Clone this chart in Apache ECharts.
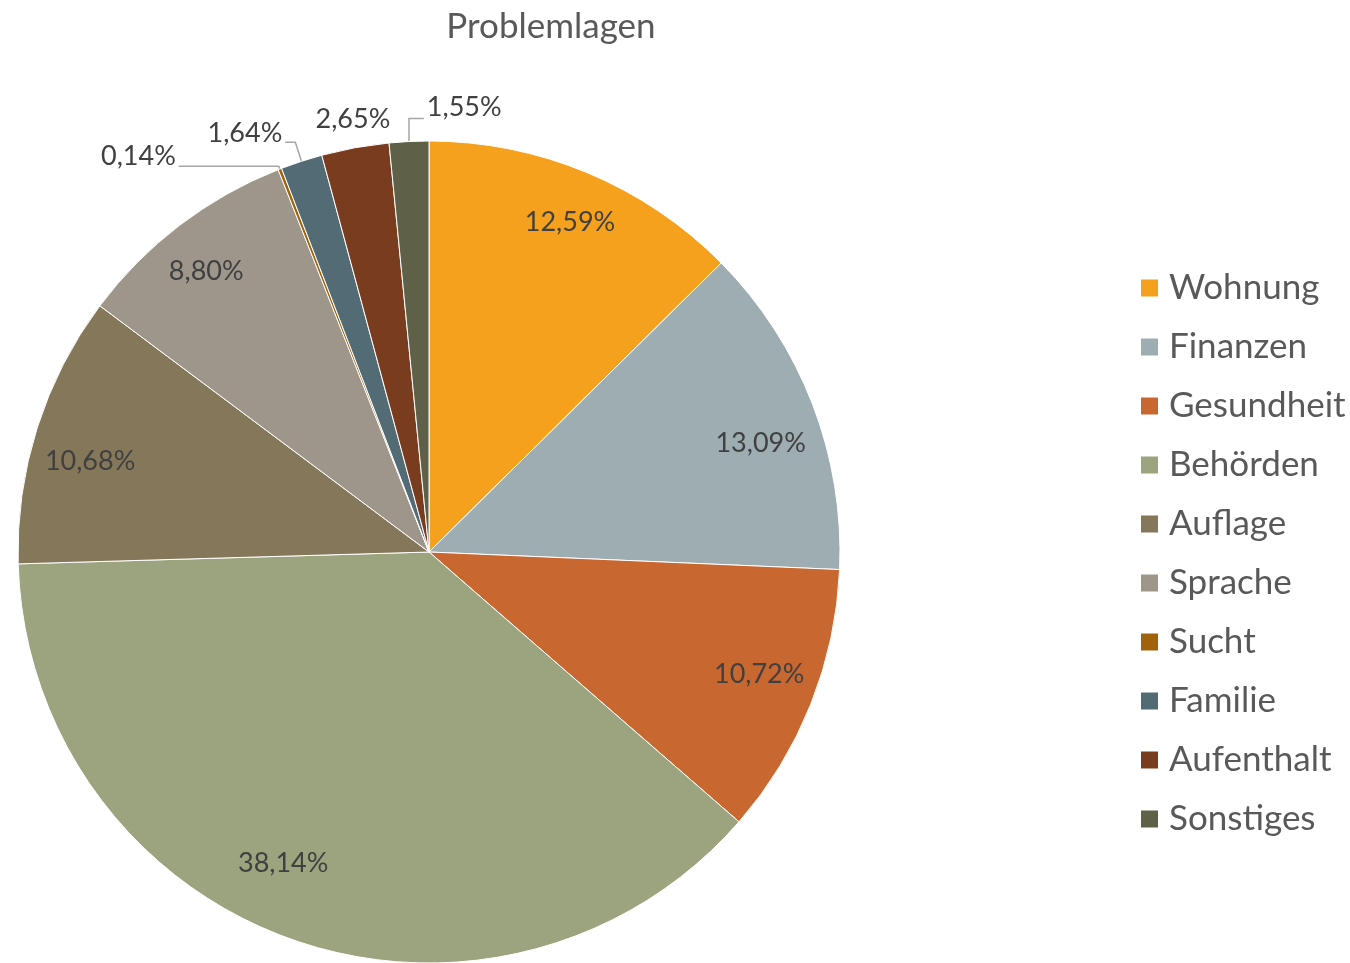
<!DOCTYPE html>
<html><head><meta charset="utf-8">
<script src="https://cdn.jsdelivr.net/npm/echarts@6/dist/echarts.min.js"></script>
<style>html,body{margin:0;padding:0;background:#fff}#c{width:1350px;height:963px}</style>
</head><body><div id="c"></div>
<script>
const categories = ['Wohnung','Finanzen','Gesundheit','Behörden','Auflage','Sprache','Sucht','Familie','Aufenthalt','Sonstiges'];
const values = [12.59,13.09,10.72,38.14,10.68,8.80,0.14,1.64,2.65,1.55];
const colors = ['#F5A11E','#9DADB2','#C8672F','#9BA37F','#85775A','#9E968A','#A0620A','#536B75','#7A3C1E','#5E6148'];
const outsideLabels = ['Sucht','Familie','Aufenthalt','Sonstiges'];

const FONT = 'Lato, "Open Sans", sans-serif';
const fmt = v => v.toFixed(2).replace('.', ',') + '%';

// leader line lengths for the small outside-labelled slices
const leader = {
  Sucht:      {length:3,  length2:100, line:true},
  Familie:    {length:20, length2:10,  line:true},
  Aufenthalt: {length:29, length2:0,   line:false},
  Sonstiges:  {length:23, length2:-16, line:true}
};
// small nudges of the inside labels (Excel best-fit placement)
const insideNudge = {
  Wohnung:[4,-2], Finanzen:[0,19], Gesundheit:[0,-9], 'Behörden':[-26,-23], Auflage:[0,17], Sprache:[-7,2]
};

const chart = echarts.init(document.getElementById('c'));
const mainData = categories.map((c,i)=>{
  const o = outsideLabels.includes(c);
  const d = {name:c, value:values[i], itemStyle:{color:colors[i]}, label:{show:o}, labelLine:{show:false}};
  if (o) d.labelLine = {show:leader[c].line, length:leader[c].length, length2:leader[c].length2};
  return d;
});
const overlayData = categories.map((c,i)=>({
  name:c, value:values[i],
  label:{show: !outsideLabels.includes(c)}
}));
chart.setOption({
  animation:false,
  title:{text:'Problemlagen', left:551, top:9, textAlign:'center', padding:0,
    textStyle:{fontFamily:FONT, fontSize:35, fontWeight:'normal', color:'#595959'}},
  legend:{orient:'vertical', left:1139, top:268, padding:0, itemWidth:19, itemHeight:19, itemGap:19,
    icon:'rect', data:categories,
    textStyle:{fontFamily:FONT, fontSize:35, lineHeight:40, color:'#595959', padding:[0,0,0,5]}},
  series:[{
    type:'pie', center:[429,552], radius:[0,411], startAngle:90, clockwise:true,
    avoidLabelOverlap:false,
    data:mainData, itemStyle:{borderColor:'#fff', borderWidth:1},
    label:{position:'outside', formatter:p=>fmt(p.value), fontFamily:FONT, fontSize:27, color:'#404040'},
    labelLine:{lineStyle:{color:'#a6a6a6', width:1.5}},
    labelLayout: p => {
      const c = categories[p.dataIndex];
      if (c === 'Aufenthalt') return {align:'center', dx:8};
      if (c === 'Sonstiges') return {align:'left', dx:8, dy:-11};
      if (c === 'Sucht') return {dy:-10, dx:2};
      if (c === 'Familie') return {dy:-9, dx:2};
      return {};
    },
    emphasis:{disabled:true}
  },{
    type:'pie', center:[429,552], radius:[295,410], startAngle:90, clockwise:true,
    avoidLabelOverlap:false,
    data:overlayData, silent:true, itemStyle:{color:'rgba(0,0,0,0)'},
    label:{position:'inside', formatter:p=>fmt(p.value), fontFamily:FONT, fontSize:27, color:'#404040'},
    labelLayout: p => {
      const n = insideNudge[categories[p.dataIndex]];
      return n ? {dx:n[0], dy:n[1]} : {};
    },
    labelLine:{show:false}, legendHoverLink:false
  }]
});
</script></body></html>
